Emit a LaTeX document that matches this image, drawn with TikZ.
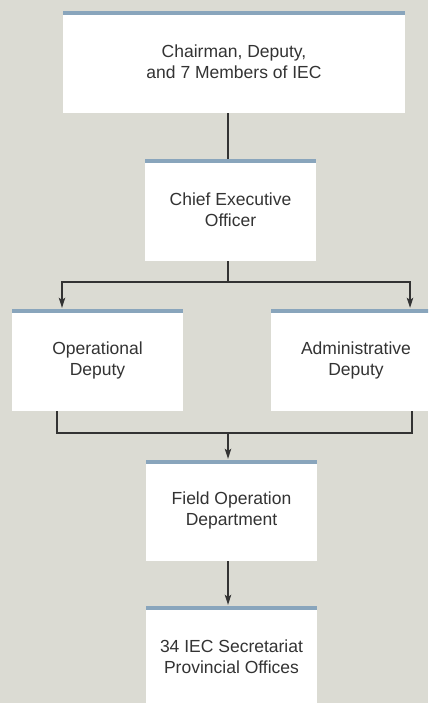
\documentclass[tikz,border=0pt]{standalone}
\usepackage{fontspec}
\setmainfont{Liberation Sans}
\usepackage{xcolor}
\usetikzlibrary{arrows.meta, positioning}
\definecolor{paper}{RGB}{219,219,211}
\definecolor{topbar}{RGB}{137,165,188}
\definecolor{ink}{RGB}{51,51,51}
\tikzstyle{box} = [fill=white, inner sep=0pt, align=center, text=ink,
    font=\fontsize{17.5}{21}\selectfont,
    path picture={\fill[topbar] (path picture bounding box.north west)
        rectangle ([yshift=-4pt]path picture bounding box.north east);}]
\tikzstyle{line} = [ink, line width=1.3pt]
\tikzstyle{arrow} = [line, -{Stealth[length=10pt,width=6.5pt,inset=2pt]}, shorten >=1pt]

\begin{document}
\begin{tikzpicture}[x=1pt, y=-1pt]
    % Background
    \fill[paper] (0,0) rectangle (428,703);
    \useasboundingbox (0,0) rectangle (428,703);
    \clip (0,0) rectangle (428,703);

    % Boxes
    \node[box, minimum width=342pt, minimum height=102pt] (chair) at (234,62)
        {Chairman, Deputy,\\and 7 Members of IEC};
    \node[box, minimum width=171pt, minimum height=102pt] (ceo) at (230.5,210)
        {Chief Executive\\Officer};
    \node[box, minimum width=171pt, minimum height=102pt] (ops) at (97.5,360)
        {Operational\\Deputy};
    \node[box, minimum width=171pt, minimum height=102pt] (adm) at (356,360)
        {Administrative\\Deputy};
    \node[box, minimum width=171pt, minimum height=101pt] (field) at (231.5,510.5)
        {Field Operation\\Department};
    \node[box, minimum width=171pt, minimum height=101pt] (prov) at (231.5,656.5)
        {34 IEC Secretariat\\Provincial Offices};

    % Line positions
    \coordinate (trunk) at (228,0);
    \coordinate (split) at (228,282);
    \coordinate (merge) at (228,433);
    \coordinate (opsin) at (62,0);
    \coordinate (admin) at (410,0);
    \coordinate (opsout) at (57,0);
    \coordinate (admout) at (412,0);

    % Connectors
    \draw[line] (chair.south -| trunk) -- (ceo.north -| trunk);
    \draw[line] (ceo.south -| trunk) -- (split);
    \draw[arrow] (split) -| (ops.north -| opsin);
    \draw[arrow] (split) -| (adm.north -| admin);
    \draw[line] (ops.south -| opsout) |- (merge);
    \draw[line] (adm.south -| admout) |- (merge);
    \draw[arrow] (merge) -- (field.north -| merge);
    \draw[arrow] (field.south -| trunk) -- (prov.north -| trunk);
\end{tikzpicture}
\end{document}
